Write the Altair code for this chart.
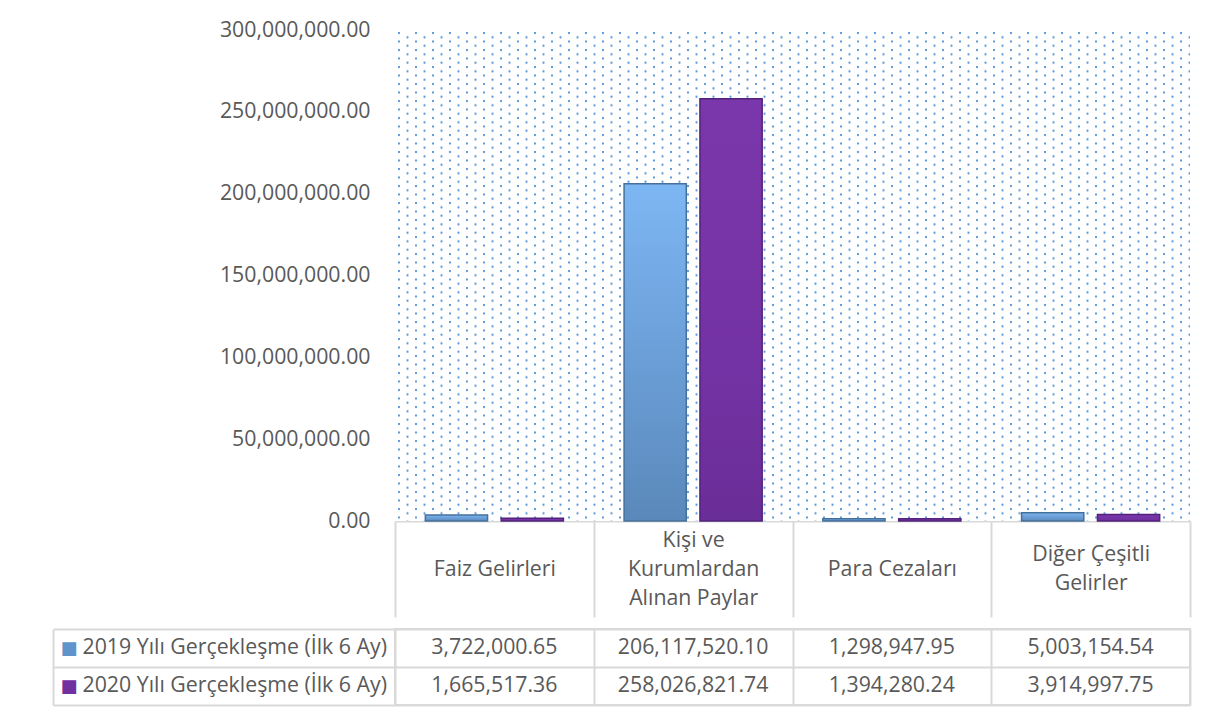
import base64
import json
import altair as alt
import pandas as pd

# ---------------- data ----------------
categories = ["Faiz Gelirleri", "Kişi ve Kurumlardan Alınan Paylar", "Para Cezaları", "Diğer Çeşitli Gelirler"]
header_lines = [["Faiz Gelirleri"], ["Kişi ve", "Kurumlardan", "Alınan Paylar"], ["Para Cezaları"], ["Diğer Çeşitli", "Gelirler"]]
series = ["2019 Yılı Gerçekleşme (İlk 6 Ay)", "2020 Yılı Gerçekleşme (İlk 6 Ay)"]
values_2019 = [3722000.65, 206117520.10, 1298947.95, 5003154.54]
values_2020 = [1665517.36, 258026821.74, 1394280.24, 3914997.75]
y_ticks = [0, 50000000, 100000000, 150000000, 200000000, 250000000, 300000000]

rows = []
for c, v in zip(categories, values_2019):
    rows.append({"category": c, "series": series[0], "value": v})
for c, v in zip(categories, values_2020):
    rows.append({"category": c, "series": series[1], "value": v})
df = pd.DataFrame(rows)

# ---------------- style ----------------
FONT = "Open Sans"
FS = 21.3
TXT = "#595959"
GRID = "#D9D9D9"
W, H = 795, 491
HEADER_H = 96
LINE_H = 29
TABLE_H = 76
LEG_W = 342

# dotted plot background (pattern)
svg = (
    f"<svg xmlns='http://www.w3.org/2000/svg' width='{W}' height='{H}'>"
    "<defs><pattern id='d' width='17' height='8.5' patternUnits='userSpaceOnUse' x='3' y='2'>"
    "<rect x='0' y='0' width='2' height='2' fill='#6FA8E0'/>"
    "<rect x='0.4' y='0.4' width='1.2' height='1.2' fill='#3F86D2'/>"
    "<rect x='8.5' y='4.25' width='2' height='2' fill='#6FA8E0'/>"
    "<rect x='8.9' y='4.65' width='1.2' height='1.2' fill='#3F86D2'/>"
    "</pattern></defs>"
    f"<rect width='{W}' height='{H}' fill='white'/>"
    f"<rect width='{W}' height='{H}' fill='url(#d)'/></svg>"
)
bg_url = "data:image/svg+xml;base64," + base64.b64encode(svg.encode("utf-8")).decode("ascii")

# header labels: multi-line text, vertically centred by choosing a baseline per line count
label_expr = " : ".join(
    f"datum.label == {json.dumps(c, ensure_ascii=False)} ? {json.dumps(l, ensure_ascii=False)}"
    for c, l in zip(categories, header_lines)
) + " : datum.label"
base_for_n = {1: "line-top", 2: "middle", 3: "line-bottom"}
baseline_expr = " : ".join(
    f"datum.label == {json.dumps(c, ensure_ascii=False)} ? '{base_for_n[len(l)]}'"
    for c, l in zip(categories, header_lines)
) + " : 'middle'"

x_top = alt.X(
    "category:N", sort=categories,
    scale=alt.Scale(domain=categories, paddingInner=0, paddingOuter=0),
    axis=alt.Axis(
        title=None, orient="bottom", labelAngle=0, labelExpr=label_expr,
        labelFont=FONT, labelFontSize=FS, labelColor=TXT, labelLineHeight=LINE_H,
        labelBaseline=alt.ExprRef(expr=baseline_expr), labelPadding=-63,
        labelLimit=400, labelOverlap=False,
        domain=True, domainColor=GRID, domainWidth=2,
        ticks=True, tickBand="extent", tickSize=HEADER_H, tickColor=GRID, tickWidth=2,
        grid=False,
    ),
)
xoff = alt.XOffset("series:N", sort=series,
                   scale=alt.Scale(domain=series, paddingInner=0.18, paddingOuter=0.4))
y_top = alt.Y(
    "value:Q",
    scale=alt.Scale(domain=[0, 300000000], nice=False),
    axis=alt.Axis(
        title=None, values=y_ticks, format=",.2f",
        labelFont=FONT, labelFontSize=FS, labelColor=TXT, labelPadding=25,
        domain=False, ticks=False, grid=False,
    ),
)

grad19 = alt.LinearGradient(
    gradient="linear", x1=0, x2=0, y1=0, y2=1,
    stops=[alt.GradientStop(color="#7DB7F3", offset=0),
           alt.GradientStop(color="#6C9FD8", offset=0.5),
           alt.GradientStop(color="#5A88BA", offset=1)],
)
grad20 = alt.LinearGradient(
    gradient="linear", x1=0, x2=0, y1=0, y2=1,
    stops=[alt.GradientStop(color="#7A37AB", offset=0),
           alt.GradientStop(color="#7433A4", offset=0.6),
           alt.GradientStop(color="#6A2E98", offset=1)],
)

bg = alt.Chart(alt.Data(values=[{"k": 1}])).mark_image(
    url=bg_url, width=W, height=H, align="left", baseline="top", aspect=False
).encode(x=alt.value(0), y=alt.value(0))

base = alt.Chart(df)
bar19 = base.transform_filter(alt.datum.series == series[0]).mark_bar(
    fill=grad19, stroke="#46709C", strokeWidth=1.5
).encode(x=x_top, xOffset=xoff, y=y_top)
bar20 = base.transform_filter(alt.datum.series == series[1]).mark_bar(
    fill=grad20, stroke="#53227A", strokeWidth=1.5
).encode(x=x_top, xOffset=xoff, y=y_top)

top = alt.layer(bg, bar19, bar20).properties(
    width=W, height=H, view=alt.ViewBackground(stroke="transparent")
)

# ---------------- data table ----------------
x_tab = alt.X(
    "category:N", sort=categories,
    scale=alt.Scale(domain=categories, paddingInner=0, paddingOuter=0),
    axis=alt.Axis(title=None, labels=False, ticks=False, domain=False,
                  grid=True, tickBand="extent", gridColor=GRID, gridWidth=2),
)
y_scale = alt.Scale(domain=series, paddingInner=0, paddingOuter=0)
y_names = alt.Y(
    "series:N", sort=series, scale=y_scale,
    axis=alt.Axis(
        title=None, orient="left", offset=LEG_W,
        domain=True, domainColor=GRID, domainWidth=2,
        ticks=False, grid=False,
        labelAlign="left", labelPadding=-29, labelBaseline="middle",
        labelFont=FONT, labelFontSize=FS, labelColor=TXT, labelLimit=400,
    ),
)
first = json.dumps(series[0], ensure_ascii=False)
y_icons = alt.Y(
    "series:N", sort=series, scale=y_scale,
    axis=alt.Axis(
        title=None, orient="left",
        domain=False, ticks=True, tickBand="extent", tickSize=LEG_W,
        tickColor=GRID, tickWidth=2,
        grid=True, gridColor=GRID, gridWidth=2,
        labelExpr="datum.extra ? '' : '■'", labelAlign="left", labelPadding=-7,
        labelBaseline="middle", labelFont="DejaVu Sans", labelFontSize=18,
        labelColor=alt.ExprRef(expr=f"datum.value == {first} ? '#5E93CC' : '#7030A0'"),
    ),
)

txt = alt.Chart(df).mark_text(font=FONT, fontSize=FS, color=TXT).encode(
    x=x_tab, y=y_names, text=alt.Text("value:Q", format=",.2f")
)
icons = alt.Chart(df).mark_text(opacity=0).encode(
    y=y_icons, text=alt.Text("value:Q", format=",.2f")
)
table = alt.layer(txt, icons).resolve_axis(y="independent").properties(
    width=W, height=TABLE_H, view=alt.ViewBackground(stroke=GRID, strokeWidth=2)
)

chart = alt.vconcat(top, table, spacing=0).properties(
    padding={"left": 43, "top": 10, "right": 5, "bottom": 5}
).configure(font=FONT)

chart.save("out.html", embed_options={"renderer": "svg", "actions": False})
